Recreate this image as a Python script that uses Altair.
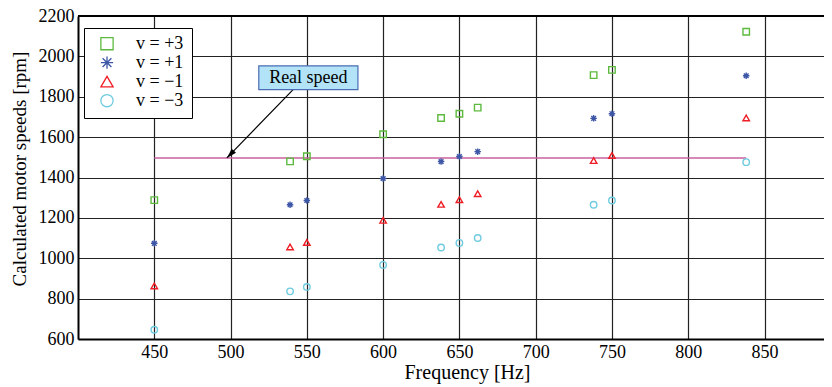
import altair as alt
import pandas as pd

# ---- data ----
freqs = [450, 539, 550, 600, 638, 650, 662, 738, 750, 838]
speeds_p3 = [1288, 1480, 1505, 1614, 1695, 1716, 1746, 1907, 1933, 2122]
speeds_p1 = [1074, 1265, 1286, 1395, 1479, 1504, 1528, 1693, 1716, 1904]
speeds_m1 = [863, 1056, 1078, 1188, 1267, 1290, 1320, 1484, 1509, 1695]
speeds_m3 = [646, 836, 858, 967, 1053, 1076, 1100, 1265, 1286, 1476]
series_labels = ["v = +3", "v = +1", "v = \u22121", "v = \u22123"]

real_speed = [1497]
real_speed_from = [450]
real_speed_to = [838]

x_ticks = [450, 500, 550, 600, 650, 700, 750, 800, 850]
y_ticks = [600, 800, 1000, 1200, 1400, 1600, 1800, 2000, 2200]

# annotation ("Real speed" box and arrow), in data units
note_text = ["Real speed"]
note_box_x = [518.5, 583.5]
note_box_y = [1835, 1953]
arrow_tail = [541, 1835]
arrow_head = [497.6, 1497]

# ---- styling ----
series_colors = ["#5dba3f", "#3d56a6", "#ee1c25", "#6fcbe0"]
asterisk = "M-1,0L1,0M0,-1L0,1M-0.72,-0.72L0.72,0.72M-0.72,0.72L0.72,-0.72"
series_shapes = ["square", asterisk, "triangle-up", "circle"]
arrowhead_path = "M0,0L0.3,1L-0.3,1Z"
FONT = "Liberation Serif"
PLOT_W, PLOT_H = 746, 323

rows = []
for lab, vals in zip(series_labels, [speeds_p3, speeds_p1, speeds_m1, speeds_m3]):
    for f, s in zip(freqs, vals):
        rows.append({"freq": f, "speed": s, "series": lab})
df = pd.DataFrame(rows)

x_scale = alt.Scale(domain=[400, 889], nice=False, zero=False)
y_scale = alt.Scale(domain=[600, 2200], nice=False, zero=False)

x_axis = alt.Axis(values=x_ticks, title="Frequency [Hz]", format="d",
                  titleFontSize=20, titleX=389, titleY=33, titleBaseline="middle",
                  titleAlign="center")
y_axis = alt.Axis(values=y_ticks, title="Calculated motor speeds [rpm]", format="d",
                  titleX=-58.5, titleY=152.5, titleBaseline="middle", titleAlign="center",
                  titleAngle=270)

legend = alt.Legend(title=None, orient="none", legendX=6, legendY=12,
                    labelExpr="datum.label + '\u00a0\u00a0\u00a0\u00a0'")

points = alt.Chart(df).mark_point(filled=False, size=42, strokeWidth=1.4, opacity=1).encode(
    x=alt.X("freq:Q", scale=x_scale, axis=x_axis),
    y=alt.Y("speed:Q", scale=y_scale, axis=y_axis),
    color=alt.Color("series:N", scale=alt.Scale(domain=series_labels, range=series_colors),
                    legend=legend),
    shape=alt.Shape("series:N", scale=alt.Scale(domain=series_labels, range=series_shapes),
                    legend=legend),
)

real_df = pd.DataFrame({"x": real_speed_from, "x2": real_speed_to, "y": real_speed})
real_line = alt.Chart(real_df).mark_rule(color="#c8609e", strokeWidth=1.5).encode(
    x=alt.X("x:Q", scale=x_scale), x2="x2:Q", y=alt.Y("y:Q", scale=y_scale)
)

top_df = pd.DataFrame({"y": [y_ticks[-1]]})
top_border = alt.Chart(top_df).mark_rule(color="black", strokeWidth=2).encode(
    y=alt.Y("y:Q", scale=y_scale)
)

arrow_df = pd.DataFrame({"x": [arrow_tail[0]], "y": [arrow_tail[1]],
                         "x2": [arrow_head[0]], "y2": [arrow_head[1]]})
arrow_line = alt.Chart(arrow_df).mark_rule(color="black", strokeWidth=1.2).encode(
    x=alt.X("x:Q", scale=x_scale), y=alt.Y("y:Q", scale=y_scale), x2="x2:Q", y2="y2:Q"
)
head_df = pd.DataFrame({"x": [arrow_head[0]], "y": [arrow_head[1]]})
arrow_headmark = alt.Chart(head_df).mark_point(
    shape=arrowhead_path, filled=True, color="black", size=400, angle=224, opacity=1
).encode(x=alt.X("x:Q", scale=x_scale), y=alt.Y("y:Q", scale=y_scale))

box_df = pd.DataFrame({"x": [note_box_x[0]], "x2": [note_box_x[1]],
                       "y": [note_box_y[0]], "y2": [note_box_y[1]],
                       "xc": [(note_box_x[0] + note_box_x[1]) / 2],
                       "yc": [(note_box_y[0] + note_box_y[1]) / 2],
                       "label": note_text})
note_box = alt.Chart(box_df).mark_rect(fill="#b3e3f7", stroke="#4b6db5", strokeWidth=1.2).encode(
    x=alt.X("x:Q", scale=x_scale), x2="x2:Q", y=alt.Y("y:Q", scale=y_scale), y2="y2:Q"
)
note_label = alt.Chart(box_df).mark_text(font=FONT, fontSize=18, color="black",
                                         baseline="middle", align="center").encode(
    x=alt.X("xc:Q", scale=x_scale), y=alt.Y("yc:Q", scale=y_scale), text="label:N"
)

chart = alt.layer(
    real_line, top_border, arrow_line, arrow_headmark, note_box, note_label, points
).properties(
    width=PLOT_W, height=PLOT_H,
    autosize=alt.AutoSizeParams(type="none"),
    padding={"left": 70, "top": 8, "right": 0, "bottom": 46},
).configure_view(stroke=None).configure_axis(
    domainColor="black", domainWidth=2, gridColor="#222222", gridWidth=1.2,
    gridOpacity=1, tickSize=0, labelFont=FONT, labelFontSize=18, labelColor="black",
    labelPadding=4, titleFont=FONT, titleFontSize=19, titleFontWeight="normal",
    titleColor="black",
).configure_legend(
    fillColor="white", strokeColor="black", padding=8,
    symbolSize=150, symbolStrokeWidth=1.3, symbolOffset=6,
    labelFont=FONT, labelFontSize=18, labelOffset=20, rowPadding=0,
    clipHeight=15.3, labelLimit=300,
)

chart.save("out.html", embed_options={"renderer": "svg", "actions": False})
